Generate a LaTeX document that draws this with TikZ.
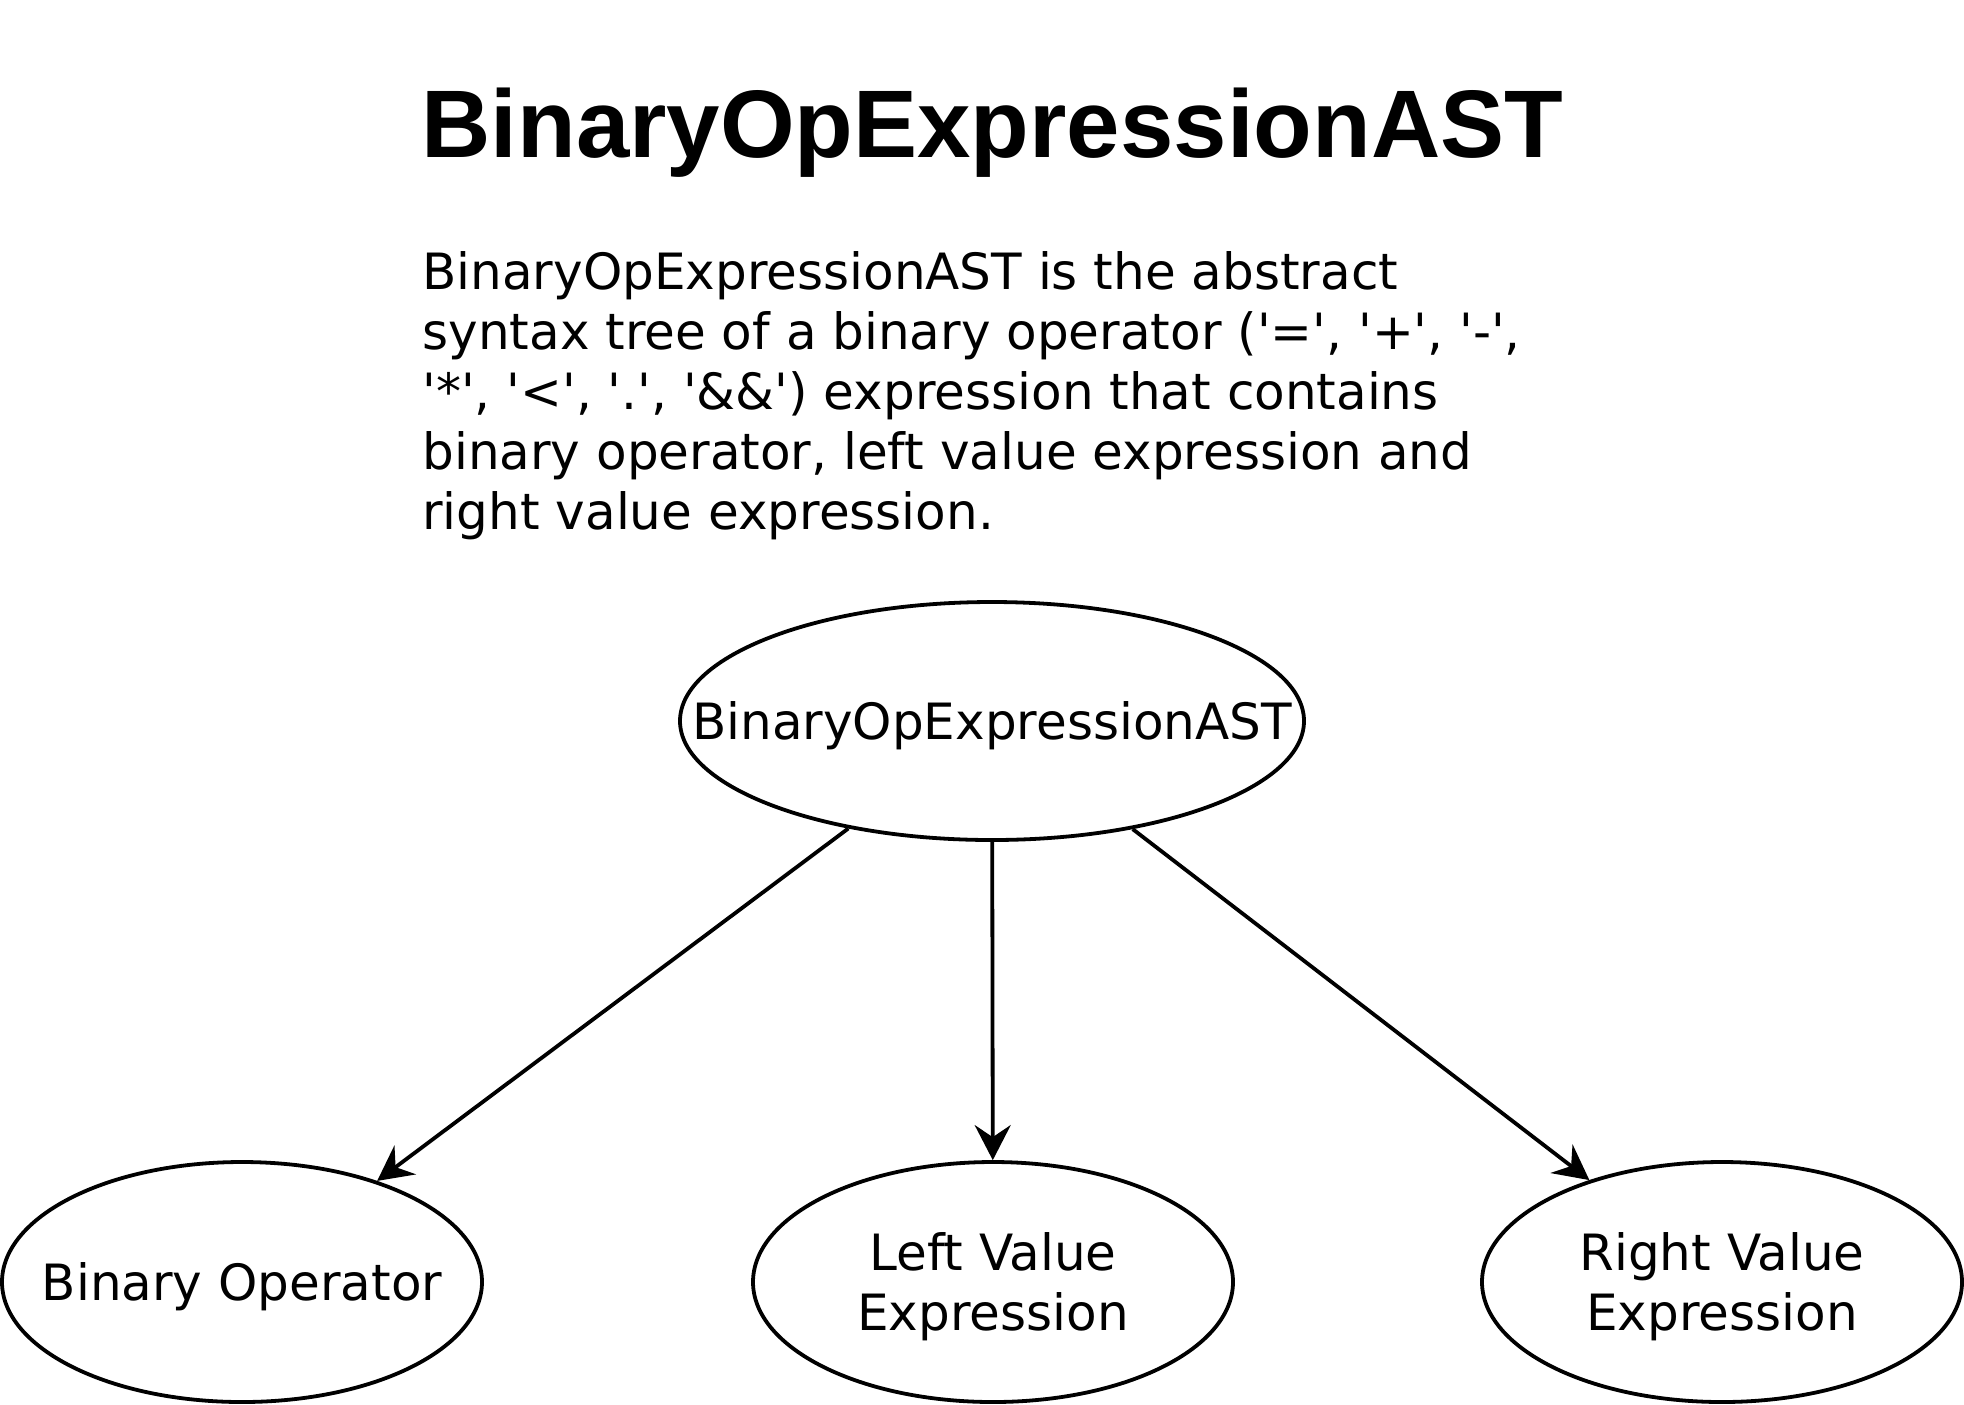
\documentclass[tikz,border=0pt]{standalone}
\usepackage{fontspec}
\setmainfont{DejaVu Sans}
\newfontfamily\titlefont{Liberation Sans}
\usetikzlibrary{arrows.meta,shapes.geometric}
\newcommand{\sq}{\textquotesingle}
\newcommand{\zw}[1]{\makebox[0pt]{#1}}
\newcommand{\lift}{\rule{0pt}{24pt}}
\begin{document}
\begin{tikzpicture}[x=0.5pt,y=-0.5pt,
  ell/.style={ellipse,draw,line width=1.9pt,inner sep=0pt,align=center,
    font=\fontsize{25pt}{30pt}\selectfont},
  conn/.style={line width=1.9pt,-{Stealth[length=17.5pt,width=18pt,inset=6pt]}}]
\useasboundingbox (0,0) rectangle (1964,1404);
\node[anchor=base west,inner sep=0pt,
  font=\titlefont\bfseries\fontsize{48pt}{57pt}\selectfont] (title) at (421,157) {BinaryOpExpressionAST};
\node[anchor=north west,inner sep=0pt,align=left,
  font=\fontsize{25pt}{30pt}\selectfont] (desc) at (422,251)
  {BinaryOpExpressionAST is the abstract\\
   syntax tree of a binary operator (\sq=\sq, \sq+\sq, \sq-\sq,\\
   \sq*\sq, \sq<\sq, \sq.\sq, \sq\&\&\sq) expression that contains\\
   binary operator, left value expression and\\
   right value expression.};
\node[ell,minimum width=312pt,minimum height=119pt] (root) at (992,721) {\zw{\lift BinaryOpExpressionAST}};
\node[ell,minimum width=240pt,minimum height=120pt] (binop) at (242,1282) {\zw{\lift Binary Operator}};
\node[ell,minimum width=240pt,minimum height=120pt] (left) at (993,1282) {\zw{\lift Left Value}\\\zw{Expression}};
\node[ell,minimum width=240pt,minimum height=120pt] (right) at (1722,1282) {\zw{\lift Right Value}\\\zw{Expression}};
\draw[conn] (root) -- (binop);
\draw[conn] (root) -- (left);
\draw[conn] (root) -- (right);
\end{tikzpicture}
\end{document}
